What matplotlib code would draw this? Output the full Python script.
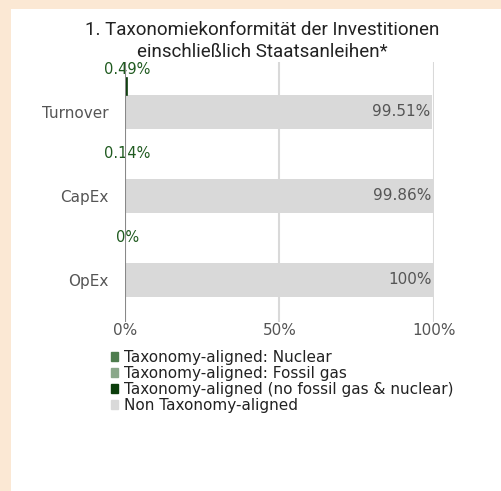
import matplotlib.pyplot as plt
import matplotlib.patches as mpatches
import numpy as np

plt.rcParams["font.family"] = ["DejaVu Sans"]

categories = ["Turnover", "CapEx", "OpEx"]
nuclear = [0.0, 0.0, 0.0]
fossil_gas = [0.0, 0.0, 0.0]
aligned = [0.49, 0.14, 0.0]
non_aligned = [99.51, 99.86, 100.0]
green_labels = ["0.49%", "0.14%", "0%"]
gray_labels = ["99.51%", "99.86%", "100%"]
xticks = [0, 50, 100]
legend_labels = ["Taxonomy-aligned: Nuclear",
                 "Taxonomy-aligned: Fossil gas",
                 "Taxonomy-aligned (no fossil gas & nuclear)",
                 "Non Taxonomy-aligned"]

C_NUC = "#4e7d4e"
C_GAS = "#8aa88a"
C_ALI = "#0b3d0b"
C_NON = "#d9d9d9"
BEIGE = "#fbe8d4"

W, H = 502, 491
fig = plt.figure(figsize=(W / 100, H / 100), dpi=100)
fig.patch.set_facecolor("white")
# beige frame on left / top
fig.add_artist(mpatches.Rectangle((0, 0), 11 / W, 1, transform=fig.transFigure,
                                  color=BEIGE, lw=0))
fig.add_artist(mpatches.Rectangle((0, 1 - 9 / H), 1, 9 / H, transform=fig.transFigure,
                                  color=BEIGE, lw=0))

title_font = ["Roboto", "DejaVu Sans"]
fig.text(262 / W, 1 - 30 / H, "1. Taxonomiekonformität der Investitionen",
         ha="center", va="center", fontsize=13.5, family=title_font, color="#222222")
fig.text(262 / W, 1 - 52 / H, "einschließlich Staatsanleihen*",
         ha="center", va="center", fontsize=13.5, family=title_font, color="#222222")

left, right = 125 / W, 434 / W
top, bottom = 1 - 62 / H, 1 - 322 / H
ax = fig.add_axes([left, bottom, right - left, top - bottom])

y = np.arange(len(categories))
gap = 84.0
ax.barh(y, non_aligned, height=34 / gap, color=C_NON, lw=0, zorder=2)

yg = y - 25.5 / gap
hg = 17 / gap
ax.barh(yg, nuclear, height=hg, color=C_NUC, lw=0, zorder=3)
ax.barh(yg, fossil_gas, left=nuclear, height=hg, color=C_GAS, lw=0, zorder=3)
base = np.array(nuclear) + np.array(fossil_gas)
ax.barh(yg, aligned, left=base, height=hg, color=C_ALI, edgecolor=C_ALI,
        lw=1.2, zorder=3)

for i in range(len(categories)):
    ax.text(0.7, y[i] - 42 / gap, green_labels[i], ha="center", va="center",
            fontsize=10.5, color="#1f5a1f")
    ax.text(non_aligned[i] - 0.6, y[i], gray_labels[i], ha="right", va="center",
            fontsize=11, color="#555555", zorder=4)

ax.set_xlim(0, 100)
ax.set_ylim(210 / gap, -50 / gap)
ax.set_yticks(y)
ax.set_yticklabels(categories, fontsize=11, color="#555555")
ax.set_xticks(xticks)
ax.set_xticklabels([f"{t}%" for t in xticks], fontsize=11, color="#555555")
ax.tick_params(axis="x", length=0, pad=1)
ax.tick_params(axis="y", length=0, pad=12)
for s in ax.spines.values():
    s.set_visible(False)
ax.axvline(0, color="#888888", lw=1.5, zorder=5)
for t in xticks[1:]:
    ax.axvline(t, color="#d9d9d9", lw=1.5, zorder=1)

handles = [mpatches.Patch(color=c) for c in (C_NUC, C_GAS, C_ALI, C_NON)]
fig.legend(handles, legend_labels, loc="upper left",
           bbox_to_anchor=(103 / W, 1 - 342 / H), frameon=False,
           fontsize=11, handlelength=0.5, handleheight=0.5,
           handletextpad=0.35, labelspacing=0.07, borderpad=0,
           labelcolor="#222222")

fig.savefig("out.png", dpi=100)
